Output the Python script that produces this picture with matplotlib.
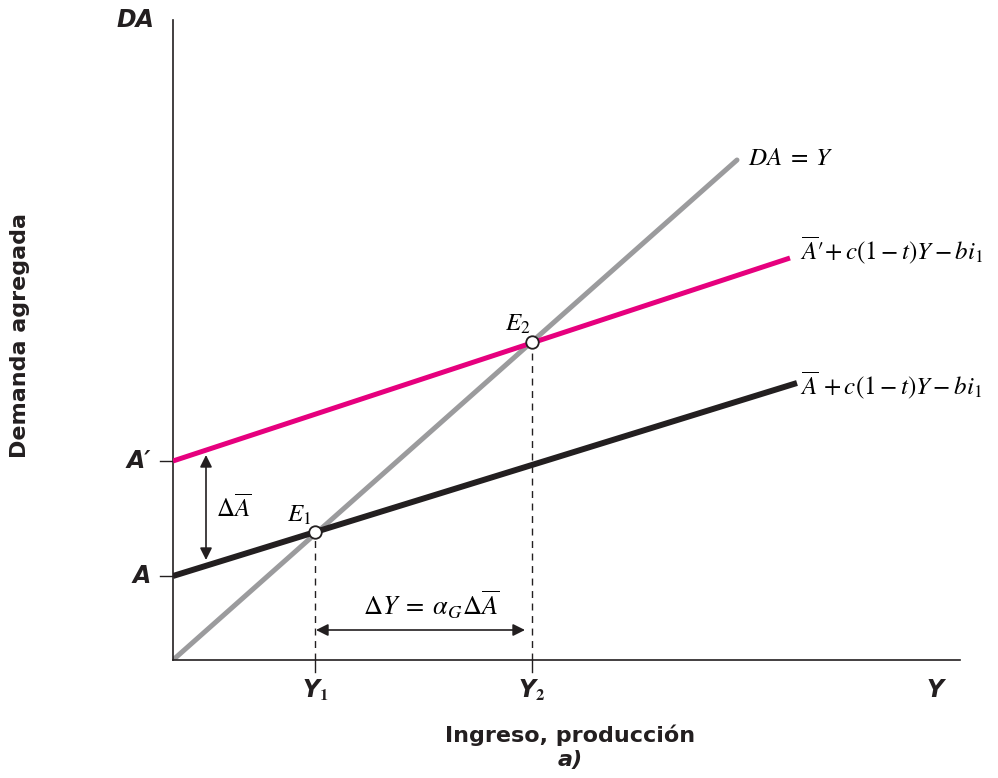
import matplotlib
matplotlib.use("Agg")
import matplotlib.pyplot as plt

# datos (unidades arbitrarias)
x_da_y = [0, 564]
y_da_y = [0, 500]
x_a = [0, 624]
y_a = [84, 277]
x_a2 = [0, 617]
y_a2 = [199, 402]
eq_x = [142, 359]
eq_y = [128, 318]
eq_names = [r"$E_{\mathit{1}}$", r"$E_{\mathit{2}}$"]
a_ticks = [84, 199]
a_labels = ["A", "A\u2032"]
y_ticks = [142, 359]
y_labels = ["Y$_\\mathbf{1}$", "Y$_\\mathbf{2}$"]

plt.rcParams["mathtext.fontset"] = "stix"

fig = plt.figure(figsize=(9.98, 7.78), dpi=100)
ax = fig.add_axes([173 / 998, 118 / 778, 787 / 998, 640 / 778])
ax.set_xlim(0, 787)
ax.set_ylim(0, 640)
for s in ["top", "right"]:
    ax.spines[s].set_visible(False)
for s in ["left", "bottom"]:
    ax.spines[s].set_linewidth(1.2)
    ax.spines[s].set_color("#231f20")
ax.set_xticks([])
ax.set_yticks([])

# lineas
ax.plot(x_da_y, y_da_y, color="#9b9b9d", lw=3.6, solid_capstyle="round", zorder=2)
ax.plot(x_a, y_a, color="#231f20", lw=4.3, solid_capstyle="butt", zorder=3)
ax.plot(x_a2, y_a2, color="#e6007e", lw=3.6, solid_capstyle="butt", zorder=3)

# lineas punteadas
for xe, ye in zip(eq_x, eq_y):
    ax.plot([xe, xe], [0, ye], color="#231f20", lw=1, ls=(0, (5, 4)), zorder=1)
ax.plot(eq_x, eq_y, "o", ms=9, mfc="white", mec="#231f20", mew=1.3, zorder=5)
ax.text(eq_x[0] - 16, eq_y[0] + 17, eq_names[0], fontsize=18, ha="center", va="center")
ax.text(eq_x[1] - 14, eq_y[1] + 18, eq_names[1], fontsize=18, ha="center", va="center")

# marcas en los ejes
bold_it = dict(fontweight="bold", fontstyle="italic", fontsize=17, color="#231f20")
for yv, lab in zip(a_ticks, a_labels):
    ax.plot([-13, 0], [yv, yv], color="#231f20", lw=1, clip_on=False)
    ax.text(-22, yv, lab, ha="right", va="center", **bold_it)
for xv, lab in zip(y_ticks, y_labels):
    ax.plot([xv, xv], [0, -12], color="#231f20", lw=1, clip_on=False)
    ax.text(xv, -30, lab, ha="center", va="center", **bold_it)
ax.text(762, -30, "Y", ha="center", va="center", **bold_it)
ax.text(-38, 640, "DA", ha="center", va="center", **bold_it)

# flechas
ax.annotate("", xy=(33, 205), xytext=(33, 100),
            arrowprops=dict(arrowstyle="<|-|>", color="#231f20", lw=1.2,
                            mutation_scale=18, shrinkA=0, shrinkB=0))
ax.text(43, 152, r"$\Delta\overline{A}$", fontsize=18, ha="left", va="center")
ax.annotate("", xy=(143, 30), xytext=(352, 30),
            arrowprops=dict(arrowstyle="<|-|>", color="#231f20", lw=1.2,
                            mutation_scale=18, shrinkA=0, shrinkB=0))
ax.text(258, 55, r"$\Delta Y\;=\;\alpha_{G}\Delta\overline{A}$", fontsize=19,
        ha="center", va="center")

# etiquetas de las curvas
ax.text(575, 502, r"$DA\;=\;Y$", fontsize=18, ha="left", va="center")
ax.text(627, 410, "$\\overline{A}\u2032\\!+c(1-t)Y-bi_{\\mathit{1}}$",
        fontsize=18, ha="left", va="center")
ax.text(627, 275, "$\\overline{A}\\,+c(1-t)Y-bi_{\\mathit{1}}$",
        fontsize=18, ha="left", va="center")

# titulos de ejes
fig.text(20 / 998, 1 - 335 / 778, "Demanda agregada", rotation=90,
         fontsize=16, fontweight="bold", ha="center", va="center", color="#231f20")
fig.text(570 / 998, 1 - 735 / 778, "Ingreso, producción",
         fontsize=16, fontweight="bold", ha="center", va="center", color="#231f20")
fig.text(570 / 998, 1 - 760 / 778, "a)", fontsize=16, fontweight="bold",
         fontstyle="italic", ha="center", va="center", color="#231f20")

fig.savefig("out.png", dpi=100)
